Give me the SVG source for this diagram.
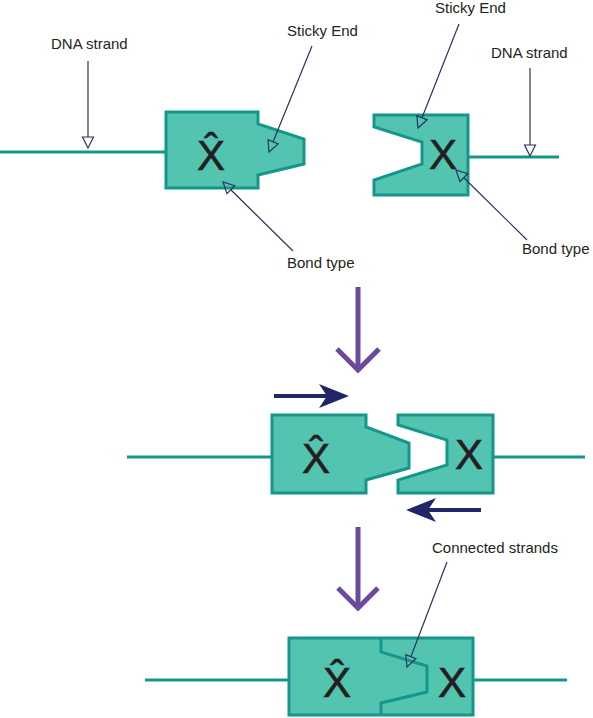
<svg xmlns="http://www.w3.org/2000/svg" width="593" height="718" viewBox="0 0 593 718">
<style>
.piece{fill:#52c4b0;stroke:#14968a;stroke-width:3;stroke-linejoin:miter}
.inner{fill:none;stroke:#14968a;stroke-width:3}
.strand{stroke:#14968a;stroke-width:3;fill:none}
.lead{stroke:#2b3160;stroke-width:1.2;fill:none;marker-end:url(#open)}
.label{font-family:"Liberation Sans",Arial,sans-serif;font-size:15px;fill:#231f20}
.big{font-family:"Liberation Sans",Arial,sans-serif;font-size:42px;fill:#231f20;text-anchor:middle;stroke:#231f20;stroke-width:0.6}
.move{stroke:#222668;stroke-width:4;fill:none;marker-end:url(#solid)}
.step{stroke:#6b4a9d;stroke-width:5;fill:none;stroke-linejoin:miter}
</style>
<defs>
<marker id="open" markerUnits="userSpaceOnUse" markerWidth="14" markerHeight="14" viewBox="-1 -7 14 14" refX="0" refY="0" orient="auto" overflow="visible">
<path d="M0,-5.5 L11,0 L0,5.5 Z" fill="none" stroke="#2b3160" stroke-width="1.2"/>
</marker>
<marker id="solid" markerUnits="userSpaceOnUse" markerWidth="32" markerHeight="26" viewBox="0 -13 32 26" refX="8" refY="0" orient="auto" overflow="visible">
<path d="M0,-12 L30,0 L0,12 L8,0 Z" fill="#222668"/>
</marker>
</defs>

<g id="strands">
<line class="strand" x1="0" y1="152" x2="166" y2="152"/>
<line class="strand" x1="468" y1="157" x2="559" y2="157"/>
<line class="strand" x1="127" y1="457" x2="272" y2="457"/>
<line class="strand" x1="493" y1="457" x2="585" y2="457"/>
<line class="strand" x1="145" y1="680" x2="289" y2="680"/>
<line class="strand" x1="473" y1="680" x2="567" y2="680"/>
</g>

<g id="top-left-piece">
<polygon class="piece" points="166,112 258,112 258,124 304,139 304,164 258,175 258,188 166,188"/>
<text class="big" x="211" y="170">X̂</text>
</g>

<g id="top-right-piece">
<polygon class="piece" points="374,115 468,115 468,195 374,195 374,180 422,164 422,142 374,127"/>
<text class="big" x="443" y="169">X</text>
</g>

<g id="middle-left-piece">
<polygon class="piece" points="272,415 366,415 366,427 409,443 409,468 366,480 366,493 272,493"/>
<text class="big" x="316" y="473">X̂</text>
</g>

<g id="middle-right-piece">
<polygon class="piece" points="398,415 493,415 493,493 398,493 398,480 447,465 447,440 398,425"/>
<text class="big" x="469" y="469">X</text>
</g>

<g id="joined-piece">
<rect class="piece" x="289" y="638" width="184" height="77"/>
<polyline class="inner" points="381,638 381,652 427,666 427,692 381,703 381,715"/>
<text class="big" x="337" y="697">X̂</text>
<text class="big" x="452" y="697">X</text>
</g>

<g id="labels">
<text class="label" x="51" y="49">DNA strand</text>
<text class="label" x="287" y="36">Sticky End</text>
<text class="label" x="435" y="13">Sticky End</text>
<text class="label" x="491" y="58">DNA strand</text>
<text class="label" x="287" y="268">Bond type</text>
<text class="label" x="522" y="254">Bond type</text>
<text class="label" x="432" y="553">Connected strands</text>
</g>

<g id="connectors">
<line class="lead" x1="88" y1="61" x2="88" y2="137"/>
<line class="lead" x1="312" y1="46" x2="273.1" y2="141.8"/>
<line class="lead" x1="459" y1="24" x2="422" y2="117.8"/>
<line class="lead" x1="530" y1="68" x2="530" y2="145"/>
<line class="lead" x1="293" y1="251" x2="230.8" y2="189.7"/>
<line class="lead" x1="527" y1="240" x2="463.8" y2="177.7"/>
<line class="lead" x1="447" y1="562" x2="410.9" y2="656.7"/>
<line class="move" x1="274" y1="396" x2="327" y2="396"/>
<line class="move" x1="481" y1="510" x2="428" y2="510"/>
<line class="step" x1="358" y1="287" x2="358" y2="369"/>
<polyline class="step" points="337,349 358,370 379,349"/>
<line class="step" x1="358" y1="527" x2="358" y2="608"/>
<polyline class="step" points="338,588 358,608 378,588"/>
</g>
</svg>
